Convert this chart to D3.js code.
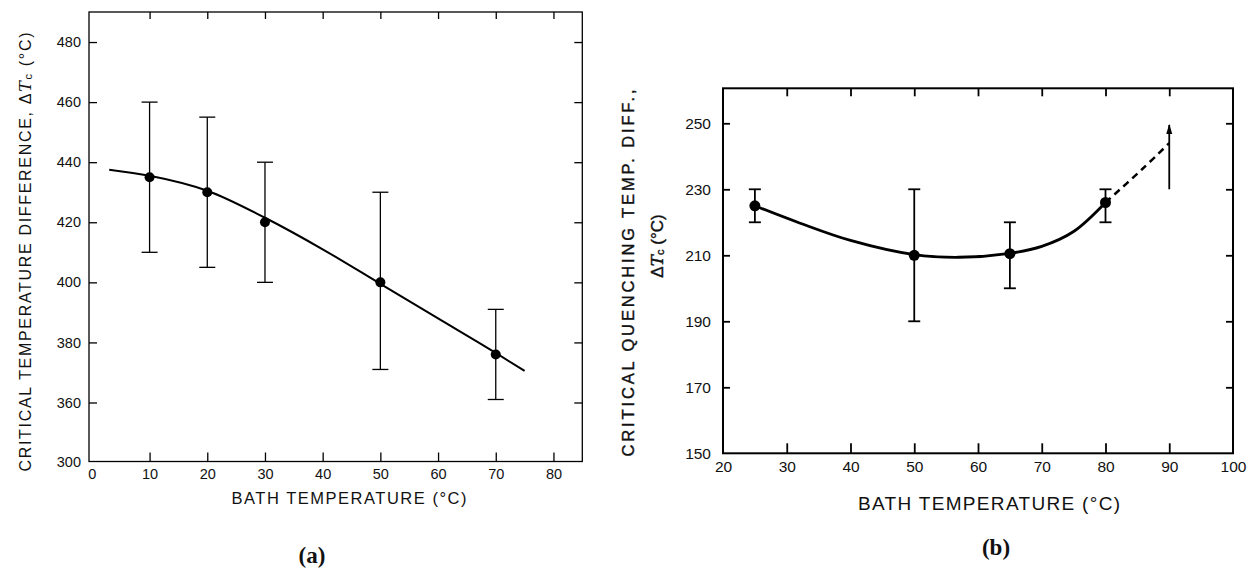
<!DOCTYPE html>
<html>
<head>
<meta charset="utf-8">
<script src="https://cdn.jsdelivr.net/npm/d3@7"></script>
<style>
  body { margin: 0; background: #fff; }
  svg { display: block; }
  text { font-family: "Liberation Sans", "DejaVu Sans", sans-serif; fill: #111; }
</style>
</head>
<body>
<svg id="chart" width="1258" height="569"></svg>
<script>
// panel (a) data
const aX = [10, 20, 30, 50, 70];
const aY = [435, 430, 420, 400, 376];
const aLow = [410, 405, 400, 371, 361];
const aHigh = [460, 455, 440, 430, 391];
const aFitX = [3, 10, 20, 30, 40, 50, 60, 70, 75];
const aFitY = [437.5, 435.5, 430.5, 421.5, 411, 399.5, 388, 376.5, 370.5];
const aXTicks = [0, 10, 20, 30, 40, 50, 60, 70, 80];
const aYTicks = [300, 360, 380, 400, 420, 440, 460, 480];

// panel (b) data
const bX = [25, 50, 65, 80];
const bY = [225, 210, 210.5, 226];
const bLow = [220, 190, 200, 220];
const bHigh = [230, 230, 220, 230];
const bFitX = [25, 32, 40, 50, 57, 65, 70, 75, 80];
const bFitY = [225, 219.8, 214.5, 210.2, 209.4, 210.6, 212.7, 217.2, 226];
const bDashX = [80, 85.7, 90];
const bDashY = [226, 236, 244];
const bArrowX = [90, 90];
const bArrowY = [230, 249.5];
const bXTicks = [20, 30, 40, 50, 60, 70, 80, 90, 100];
const bYTicks = [150, 170, 190, 210, 230, 250];

const svg = d3.select("#chart");

svg.append("defs").append("marker")
  .attr("id", "arrow")
  .attr("viewBox", "0 0 10 10")
  .attr("refX", 9).attr("refY", 5)
  .attr("markerWidth", 10).attr("markerHeight", 10)
  .attr("markerUnits", "userSpaceOnUse")
  .attr("orient", "auto")
  .append("path").attr("d", "M0,2 L10,5 L0,8 Z").attr("fill", "#000");

const first = s => s.range()[0];
const last = s => s.range()[s.range().length - 1];

function frame(g, x, y, sw) {
  const x0 = first(x), x1 = last(x), y0 = first(y), y1 = last(y);
  g.append("rect")
    .attr("x", x0).attr("y", y1)
    .attr("width", x1 - x0).attr("height", y0 - y1)
    .attr("fill", "none").attr("stroke", "#000").attr("stroke-width", sw);
}

function axes(g, x, y, o) {
  const x0 = first(x), x1 = last(x), y0 = first(y), y1 = last(y);
  const xd = x.domain();
  const bottom = g.append("g").attr("transform", `translate(0,${y0})`)
    .call(d3.axisBottom(x).tickValues(o.xTicks).tickSizeInner(-o.tb).tickSizeOuter(0).tickPadding(o.xPad));
  const top = g.append("g").attr("transform", `translate(0,${y1})`)
    .call(d3.axisTop(x).tickValues(o.xTicks.filter(v => v > xd[0] + 1 && v < xd[xd.length - 1] - 1)).tickSizeInner(-o.tt).tickSizeOuter(0).tickFormat(""));
  const left = g.append("g").attr("transform", `translate(${x0},0)`)
    .call(d3.axisLeft(y).tickValues(o.yTicks).tickSizeInner(-o.tl).tickSizeOuter(0).tickPadding(o.yPad));
  const right = g.append("g").attr("transform", `translate(${x1},0)`)
    .call(d3.axisRight(y).tickValues(o.yTicks.slice(1)).tickSizeInner(-o.tl).tickSizeOuter(0).tickFormat(""));
  bottom.selectAll(".tick line").filter(d => d <= xd[0] + 1 || d >= xd[xd.length - 1] - 1).remove();
  left.selectAll(".tick line").filter((d, i) => i === 0).remove();
  for (const a of [bottom, top, left, right]) {
    a.select(".domain").remove();
    a.selectAll(".tick line").attr("stroke", "#000").attr("stroke-width", o.sw);
    a.selectAll("text").attr("font-size", o.fs).attr("fill", "#111");
  }
}

function errorBars(g, x, y, xs, lo, hi, cap, sw) {
  const eb = g.append("g").attr("stroke", "#000").attr("stroke-width", sw);
  eb.selectAll("line.v").data(xs).enter().append("line")
    .attr("x1", d => x(d)).attr("x2", d => x(d))
    .attr("y1", (d, i) => y(lo[i])).attr("y2", (d, i) => y(hi[i]));
  eb.selectAll("line.lo").data(xs).enter().append("line")
    .attr("x1", d => x(d) - cap).attr("x2", d => x(d) + cap)
    .attr("y1", (d, i) => y(lo[i])).attr("y2", (d, i) => y(lo[i]));
  eb.selectAll("line.hi").data(xs).enter().append("line")
    .attr("x1", d => x(d) - cap).attr("x2", d => x(d) + cap)
    .attr("y1", (d, i) => y(hi[i])).attr("y2", (d, i) => y(hi[i]));
}

// ---------- panel (a) ----------
const xa = d3.scaleLinear().domain([-0.5, 85]).range([89, 582.3]);
const ya = d3.scaleLinear().domain([300, 360, 490]).range([461.5, 402.5, 12]);
const ga = svg.append("g");
frame(ga, xa, ya, 1.3);
axes(ga, xa, ya, { xTicks: aXTicks, yTicks: aYTicks, tb: 9, tt: 7, tl: 8, xPad: 7, yPad: 8, fs: 14.5, sw: 1.3 });

ga.append("path")
  .datum(aFitX.map((d, i) => [d, aFitY[i]]))
  .attr("d", d3.line().x(d => xa(d[0])).y(d => ya(d[1])).curve(d3.curveMonotoneX))
  .attr("fill", "none").attr("stroke", "#000").attr("stroke-width", 2);
errorBars(ga, xa, ya, aX, aLow, aHigh, 8, 1.3);
ga.selectAll("circle").data(aX).enter().append("circle")
  .attr("cx", d => xa(d)).attr("cy", (d, i) => ya(aY[i])).attr("r", 5).attr("fill", "#000");

ga.append("text")
  .attr("x", 349).attr("y", 498).attr("text-anchor", "middle").attr("dominant-baseline", "central")
  .attr("font-size", 16.5).attr("textLength", 235).attr("lengthAdjust", "spacing")
  .text("BATH TEMPERATURE (°C)");
const ta = ga.append("text")
  .attr("transform", "translate(25,252) rotate(-90)")
  .attr("text-anchor", "middle").attr("dominant-baseline", "central")
  .attr("font-size", 16).attr("textLength", 439).attr("lengthAdjust", "spacing");
ta.append("tspan").text("CRITICAL   TEMPERATURE   DIFFERENCE,  Δ");
ta.append("tspan").attr("font-style", "italic").style("font-family", "DejaVu Serif").text("T");
ta.append("tspan").attr("font-size", 11).attr("dy", 3).text("c");
ta.append("tspan").attr("dy", -3).text(" (°C)");
ga.append("text")
  .attr("x", 312).attr("y", 555).attr("text-anchor", "middle").attr("dominant-baseline", "central")
  .attr("font-weight", "bold").attr("font-size", 23)
  .style("font-family", "Liberation Serif")
  .text("(a)");

// ---------- panel (b) ----------
const xb = d3.scaleLinear().domain([20, 100]).range([723, 1233]);
const yb = d3.scaleLinear().domain([150, 260.6]).range([453.3, 88.3]);
const gb = svg.append("g");
frame(gb, xb, yb, 2);
axes(gb, xb, yb, { xTicks: bXTicks, yTicks: bYTicks, tb: 10, tt: 8, tl: 7, xPad: 8, yPad: 12, fs: 15.5, sw: 1.8 });

gb.append("path")
  .datum(bFitX.map((d, i) => [d, bFitY[i]]))
  .attr("d", d3.line().x(d => xb(d[0])).y(d => yb(d[1])).curve(d3.curveCatmullRom.alpha(0.5)))
  .attr("fill", "none").attr("stroke", "#000").attr("stroke-width", 2.8);
gb.append("path")
  .datum(bDashX.map((d, i) => [d, bDashY[i]]))
  .attr("d", d3.line().x(d => xb(d[0])).y(d => yb(d[1])).curve(d3.curveCatmullRom.alpha(0.5)))
  .attr("fill", "none").attr("stroke", "#000").attr("stroke-width", 2.5).attr("stroke-dasharray", "7,5");
gb.append("path")
  .datum(bArrowX.map((d, i) => [d, bArrowY[i]]))
  .attr("d", d3.line().x(d => xb(d[0])).y(d => yb(d[1])))
  .attr("stroke", "#000").attr("stroke-width", 1.8).attr("marker-end", "url(#arrow)");
errorBars(gb, xb, yb, bX, bLow, bHigh, 6, 1.8);
gb.selectAll("circle").data(bX).enter().append("circle")
  .attr("cx", d => xb(d)).attr("cy", (d, i) => yb(bY[i])).attr("r", 5.5).attr("fill", "#000");

gb.append("text")
  .attr("x", 989).attr("y", 503).attr("text-anchor", "middle").attr("dominant-baseline", "central")
  .attr("font-size", 19).attr("textLength", 262).attr("lengthAdjust", "spacing")
  .text("BATH TEMPERATURE (°C)");
gb.append("text")
  .attr("transform", "translate(628,273) rotate(-90)")
  .attr("text-anchor", "middle").attr("dominant-baseline", "central")
  .attr("font-size", 16.5).attr("textLength", 367).attr("lengthAdjust", "spacing")
  .style("stroke", "#111").style("stroke-width", 0.4)
  .text("CRITICAL QUENCHING TEMP. DIFF.,");
const tb = gb.append("text")
  .attr("transform", "translate(657,246) rotate(-90)")
  .attr("text-anchor", "middle").attr("dominant-baseline", "central")
  .attr("font-size", 17)
  .style("stroke", "#111").style("stroke-width", 0.4);
tb.append("tspan").text("Δ");
tb.append("tspan").attr("font-style", "italic").style("font-family", "DejaVu Serif").text("T");
tb.append("tspan").attr("font-size", 11).attr("dy", 3).text("c");
tb.append("tspan").attr("dy", -3).text(" (°C)");
gb.append("text")
  .attr("x", 996).attr("y", 547).attr("text-anchor", "middle").attr("dominant-baseline", "central")
  .attr("font-weight", "bold").attr("font-size", 23)
  .style("font-family", "Liberation Serif")
  .text("(b)");
</script>
</body>
</html>
